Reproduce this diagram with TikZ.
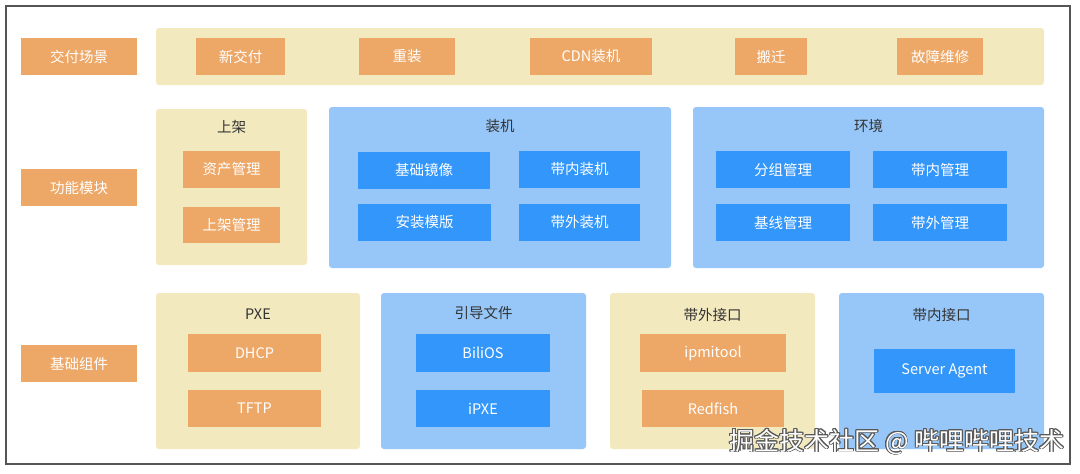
\documentclass[tikz,border=0pt]{standalone}
\usepackage{fontspec}
\setmainfont{Noto Sans CJK SC}
\usepackage[copies]{contour}
\contourlength{0.8pt}
\definecolor{orangebox}{HTML}{EDA766}
\definecolor{beige}{HTML}{F3E9BF}
\definecolor{lightblue}{HTML}{97C7F9}
\definecolor{darkblue}{HTML}{3296FA}
\definecolor{titletext}{HTML}{333333}
\definecolor{framegray}{HTML}{555555}
\tikzset{
  obox/.style={rectangle, fill=orangebox, text=white, inner sep=0pt, font=\fontsize{14.5}{16}\selectfont},
  bbox/.style={rectangle, fill=darkblue, text=white, inner sep=0pt, font=\fontsize{14.5}{16}\selectfont},
  ycont/.style={rectangle, rounded corners=3pt, fill=beige, inner sep=0pt},
  bcont/.style={rectangle, rounded corners=3pt, fill=lightblue, inner sep=0pt},
  ctitle/.style={text=titletext, inner sep=0pt, font=\fontsize{14.5}{16}\selectfont},
}
\begin{document}
\begin{tikzpicture}[x=1pt,y=-1pt]
\useasboundingbox (0,0) rectangle (1080,474);
\fill[white] (0,0) rectangle (1080,474);
\draw[framegray, line width=1.5pt] (6,6) rectangle (1070,464);

% left labels
\node[obox, minimum width=116pt, minimum height=37pt] (l1) at (79,56.5) {交付场景};
\node[obox, minimum width=116pt, minimum height=37pt] (l2) at (79,187.5) {功能模块};
\node[obox, minimum width=116pt, minimum height=37pt] (l3) at (79,363.5) {基础组件};

% delivery band
\node[ycont, minimum width=888pt, minimum height=57pt] (band) at (600,56.5) {};
\node[obox, minimum width=89pt, minimum height=37pt] (d1) at (240.5,56.5) {新交付};
\node[obox, minimum width=96pt, minimum height=37pt] (d2) at (407,56.5) {重装};
\node[obox, minimum width=122pt, minimum height=37pt] (d3) at (591,56.5) {CDN装机};
\node[obox, minimum width=72pt, minimum height=37pt] (d4) at (771,56.5) {搬迁};
\node[obox, minimum width=86pt, minimum height=37pt] (d5) at (940,56.5) {故障维修};

% 上架
\node[ycont, minimum width=151pt, minimum height=156pt] (sj) at (231.5,187) {};
\node[ctitle] (sjt) at (231.5,127) {上架};
\node[obox, minimum width=97pt, minimum height=37pt] (sj1) at (231.5,169.5) {资产管理};
\node[obox, minimum width=97pt, minimum height=36pt] (sj2) at (231.5,225) {上架管理};

% 装机
\node[bcont, minimum width=342pt, minimum height=161pt] (zj) at (500,187.5) {};
\node[ctitle] (zjt) at (500,126) {装机};
\node[bbox, minimum width=132pt, minimum height=37pt] (zj1) at (424,170) {基础镜像};
\node[bbox, minimum width=121pt, minimum height=37pt] (zj2) at (579.5,169.5) {带内装机};
\node[bbox, minimum width=133pt, minimum height=37pt] (zj3) at (424.5,222.5) {安装模版};
\node[bbox, minimum width=121pt, minimum height=37pt] (zj4) at (579.5,222.5) {带外装机};

% 环境
\node[bcont, minimum width=351pt, minimum height=161pt] (hj) at (868.5,187.5) {};
\node[ctitle] (hjt) at (868.5,126) {环境};
\node[bbox, minimum width=134pt, minimum height=37pt] (hj1) at (783,169.5) {分组管理};
\node[bbox, minimum width=134pt, minimum height=37pt] (hj2) at (940,169.5) {带内管理};
\node[bbox, minimum width=134pt, minimum height=37pt] (hj3) at (783,222.5) {基线管理};
\node[bbox, minimum width=134pt, minimum height=37pt] (hj4) at (940,222.5) {带外管理};

% PXE
\node[ycont, minimum width=204pt, minimum height=156pt] (pxe) at (258,371) {};
\node[ctitle] (pxet) at (258,314) {PXE};
\node[obox, minimum width=133pt, minimum height=38pt] (pxe1) at (254.5,353) {DHCP};
\node[obox, minimum width=133pt, minimum height=37pt] (pxe2) at (254.5,408.5) {TFTP};

% 引导文件
\node[bcont, minimum width=205pt, minimum height=156pt] (yd) at (483.5,371) {};
\node[ctitle] (ydt) at (483.5,313) {引导文件};
\node[bbox, minimum width=134pt, minimum height=38pt] (yd1) at (483,353) {BiliOS};
\node[bbox, minimum width=134pt, minimum height=37pt] (yd2) at (483,408.5) {iPXE};

% 带外接口
\node[ycont, minimum width=205pt, minimum height=156pt] (dw) at (712.5,371) {};
\node[ctitle] (dwt) at (712.5,315) {带外接口};
\node[obox, minimum width=146pt, minimum height=38pt] (dw1) at (713,353) {ipmitool};
\node[obox, minimum width=142pt, minimum height=37pt] (dw2) at (713,408.5) {Redfish};

% 带内接口
\node[bcont, minimum width=205pt, minimum height=156pt] (dn) at (941.5,371) {};
\node[ctitle] (dnt) at (941.5,315) {带内接口};
\node[bbox, minimum width=141pt, minimum height=44pt] (dn1) at (944.5,371) {Server Agent};

% watermark
\node[inner sep=0pt, font=\fontsize{25}{28}\selectfont] (wm) at (897,442) {\contour{black!65}{\textcolor{white}{掘金技术社区 @ 哔哩哔哩技术}}};
\end{tikzpicture}
\end{document}
